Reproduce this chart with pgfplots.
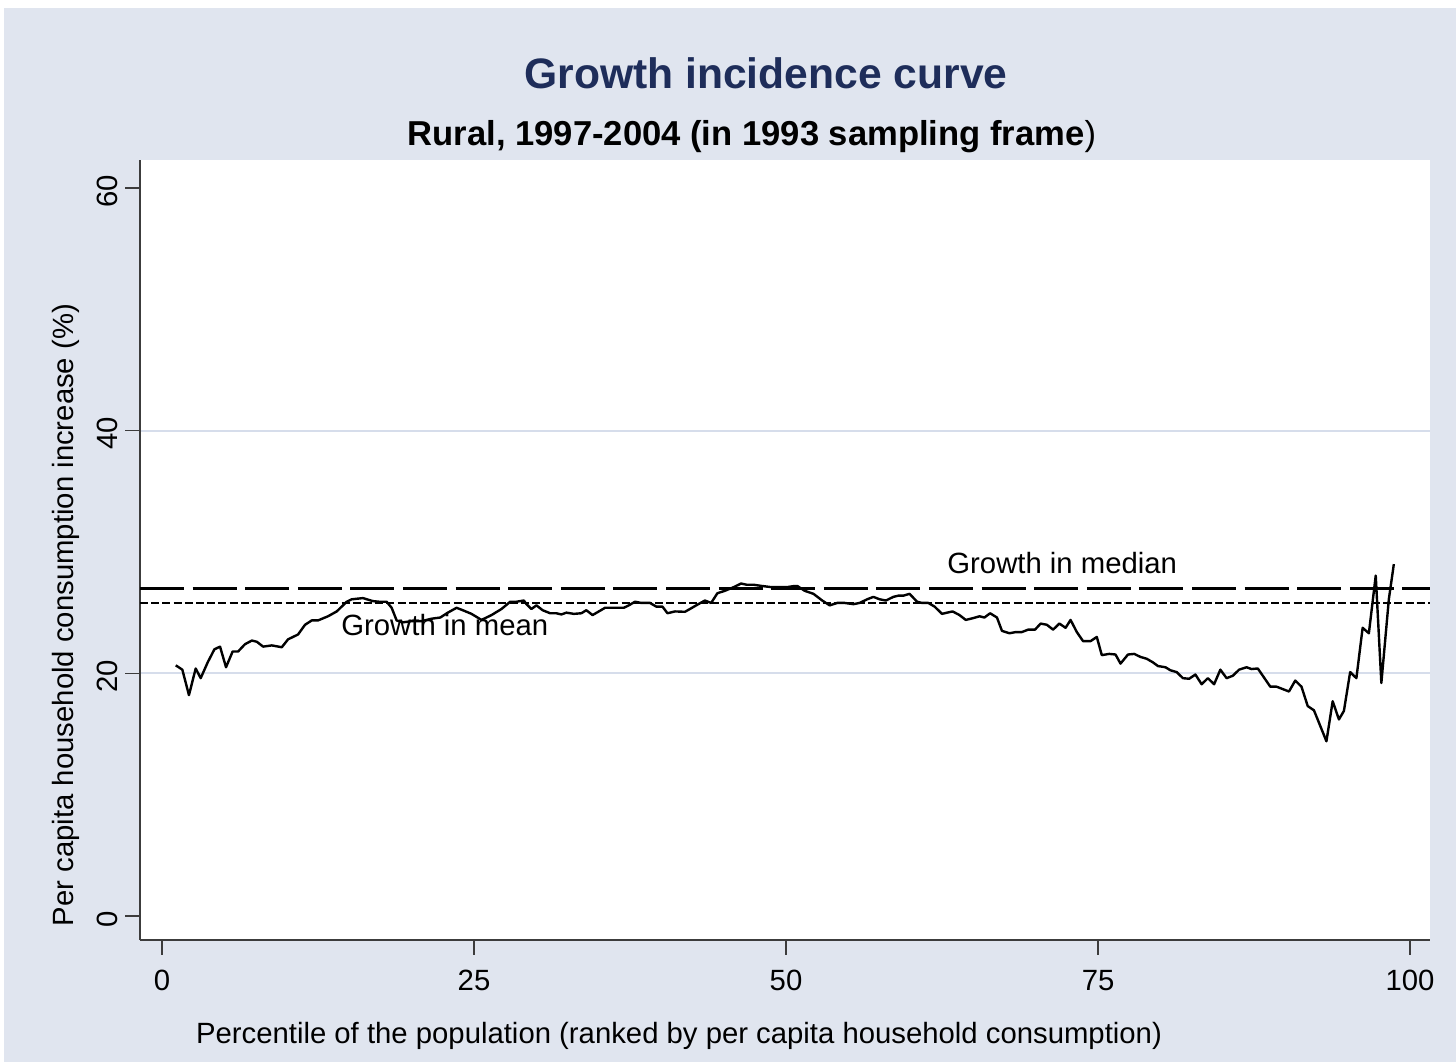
\documentclass[border=0pt]{standalone}
\usepackage{fontspec}
\setmainfont{Liberation Sans}
\usepackage{pgfplots}
\pgfplotsset{compat=1.18}

\definecolor{bgcol}{RGB}{224,229,239}
\definecolor{gridcol}{RGB}{214,221,235}
\definecolor{titlecol}{RGB}{30,45,90}
\definecolor{axiscol}{RGB}{60,60,60}

\newcommand{\regfont}{\fontsize{14.65bp}{17bp}\selectfont}

\begin{document}
\begin{tikzpicture}[x=1bp,y=1bp]
% page and graph region
\path[use as bounding box, fill=white] (-70,-61) rectangle (658,470);
\fill[bgcol] (-68,-61) rectangle (658,466);

\begin{axis}[
  at={(0,0)}, anchor=south west,
  scale only axis, width=645bp, height=390bp,
  xmin=-1.763, xmax=101.6, ymin=-1.98, ymax=62.31,
  axis background/.style={fill=white},
  axis x line*=bottom, axis y line*=left,
  axis line style={axiscol, line width=0.9bp},
  xtick={0,25,50,75,100},
  ytick={20,40},
  extra y ticks={0,60},
  extra y tick style={grid=none},
  ymajorgrids,
  grid style={gridcol, line width=1.1bp},
  tick align=outside,
  major tick length=7.5bp,
  tick style={axiscol, line width=0.8bp},
  /pgf/number format/assume math mode=true,
  ticklabel style={font=\regfont},
  xticklabel style={yshift=-4bp},
  yticklabel style={rotate=90, anchor=south, xshift=-1.5bp},
  clip=false,
]

% growth in median (long dashes)
\addplot[black, line width=1.2bp, dash pattern=on 22bp off 4.3bp]
  coordinates {(-1.763,27.0) (101.6,27.0)};
% growth in mean (short dashes)
\addplot[black, line width=1.1bp, dash pattern=on 4bp off 1.6bp]
  coordinates {(-1.763,25.8) (101.6,25.8)};

% growth incidence curve
\addplot[black, line width=1.2bp, line join=round] table {
x y
1.1 20.66
1.63 20.3
2.16 18.2
2.7 20.4
3.1 19.6
3.66 20.9
4.2 21.98
4.65 22.2
5.13 20.5
5.66 21.8
6.1 21.8
6.65 22.4
7.2 22.7
7.6 22.6
8.1 22.2
8.8 22.3
9.6 22.15
10.1 22.8
10.9 23.2
11.46 24.0
12.0 24.36
12.5 24.36
13.3 24.7
14.0 25.1
14.8 25.9
15.2 26.1
16.1 26.2
16.9 25.95
17.4 25.9
18.0 25.9
18.4 25.4
18.8 24.36
19.3 24.2
20.0 24.3
20.8 24.3
21.6 24.5
22.3 24.6
22.9 25.0
23.6 25.4
24.1 25.2
24.8 24.9
25.6 24.4
26.4 24.8
27.2 25.3
27.9 25.9
28.4 25.9
29.0 26.0
29.2 25.7
29.6 25.3
30.0 25.6
30.5 25.2
31.1 24.95
31.6 24.95
32.0 24.85
32.4 25.0
33.0 24.9
33.6 24.95
34.0 25.2
34.5 24.8
35.0 25.1
35.5 25.4
36.3 25.4
37.0 25.4
37.4 25.6
37.9 25.9
38.4 25.8
39.1 25.8
39.6 25.5
40.1 25.5
40.5 24.95
41.1 25.1
41.9 25.07
42.3 25.3
42.8 25.6
43.5 26.0
44.0 25.8
44.5 26.6
45.1 26.8
45.8 27.1
46.4 27.4
46.85 27.3
47.4 27.3
48.05 27.2
48.85 27.1
49.4 27.1
50.05 27.1
50.7 27.2
50.9 27.2
51.5 26.8
52.2 26.55
52.9 26.0
53.5 25.6
54.1 25.8
54.7 25.8
55.4 25.7
55.9 25.8
56.5 26.1
57.0 26.3
57.5 26.1
58.0 26.0
58.6 26.3
59.0 26.4
59.4 26.4
59.9 26.55
60.5 25.9
60.9 25.8
61.4 25.8
61.9 25.5
62.5 24.9
62.9 25.0
63.35 25.1
63.9 24.8
64.4 24.4
65.0 24.55
65.5 24.7
65.9 24.6
66.35 24.95
66.9 24.6
67.3 23.5
67.9 23.3
68.4 23.4
68.9 23.4
69.4 23.6
69.95 23.6
70.4 24.1
70.9 24.0
71.4 23.6
71.9 24.1
72.4 23.75
72.8 24.4
73.3 23.4
73.8 22.65
74.4 22.65
74.9 23.0
75.3 21.5
75.9 21.6
76.4 21.55
76.8 20.8
77.4 21.55
77.9 21.6
78.4 21.35
78.9 21.2
79.4 20.9
79.8 20.6
80.4 20.5
80.8 20.25
81.3 20.1
81.8 19.6
82.3 19.55
82.8 19.9
83.3 19.1
83.8 19.6
84.3 19.1
84.8 20.3
85.3 19.6
85.8 19.8
86.3 20.3
86.9 20.5
87.3 20.35
87.8 20.4
88.8 18.9
89.3 18.9
89.8 18.7
90.3 18.5
90.8 19.4
91.3 18.9
91.8 17.3
92.3 16.95
93.3 14.4
93.8 17.7
94.3 16.2
94.7 16.9
95.2 20.1
95.7 19.6
96.2 23.75
96.7 23.3
97.25 28.06
97.7 19.2
98.3 26.1
98.7 29.0
};

\node[anchor=base west, inner sep=0pt, font=\regfont] at (axis cs:62.9,28.19) {Growth in median};
\node[anchor=base west, inner sep=0pt, font=\regfont] at (axis cs:14.34,23.08) {Growth in mean};
\end{axis}

% titles and axis titles
\node[font=\fontsize{21.3bp}{25bp}\selectfont\bfseries, text=titlecol, inner sep=0pt] at (313,433.5) {Growth incidence curve};
\node[font=\fontsize{17.3bp}{20bp}\selectfont, inner sep=0pt] at (306,401.75) {\textbf{Rural, 1997-2004 (in 1993 sampling frame})};
\node[font=\regfont, inner sep=0pt] at (269.5,-48) {Percentile of the population (ranked by per capita household consumption)};
\node[font=\regfont, inner sep=0pt, rotate=90] at (-37,162.5) {Per capita household consumption increase (\%)};
\end{tikzpicture}
\end{document}
